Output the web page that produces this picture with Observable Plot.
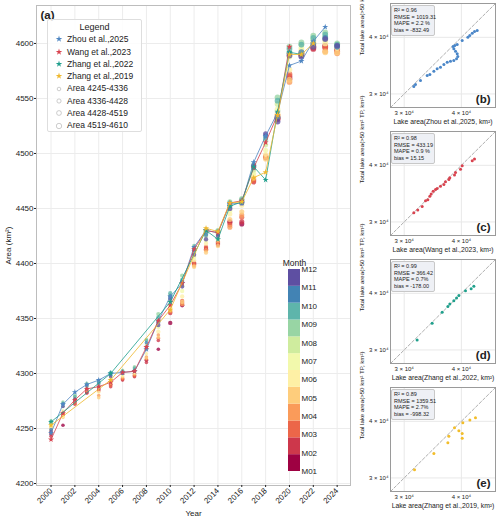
<!DOCTYPE html>
<html><head><meta charset="utf-8">
<script src="https://cdn.jsdelivr.net/npm/d3@7"></script>
<script src="https://cdn.jsdelivr.net/npm/@observablehq/plot@0.6"></script>
<style>
body{margin:0;background:#fff;font-family:"Liberation Sans",Arial,sans-serif;color:#222;}
#root{position:relative;width:500px;height:520px;overflow:hidden;background:#fff;}
#root > *{position:absolute;}
.legend{left:47px;top:19px;width:95px;height:113px;border:1px solid #dedede;border-radius:2px;background:rgba(255,255,255,0.85);font-size:8.5px;box-sizing:border-box;padding-top:1px;}
.legend .ttl{text-align:center;font-size:9px;line-height:12.3px;height:12.3px;}
.legend .row{display:flex;align-items:center;height:12.3px;line-height:12.3px;white-space:nowrap;}
.legend .row svg{margin-left:5px;margin-right:2px;flex:none;}
.stats{width:38px;padding:1px 2px;font-size:5.5px;line-height:6.7px;background:#eef0f5;border:0.6px solid #c8c8c8;border-radius:2px;white-space:nowrap;}
</style></head><body><div id="root"></div>
<script>
// ---------- data ----------
const years = [2000,2001,2002,2003,2004,2005,2006,2007,2008,2009,2010,2011,2012,2013,2014,2015,2016,2017,2018,2019,2020,2021,2022,2023,2024];
const m01 = [4245,4253,4274,4283,4286,4290,4295,4298,4312,4322,4346,4362,4400,4414,4418,4438,4436,4476,4497,4532,4568,4590,4596,4598,4595];
const m02 = [4243,4263,4272,4282,4285,4288,4294,4297,4310,4330,4355,4364,4399,4413,4417,4437,4438,4474,4496,4531,4570,4589,4595,4596,4593];
const m03 = [4246,4264,4273,4284,4284,4289,4295,4298,4313,4332,4356,4366,4401,4415,4419,4435,4442,4475,4498,4533,4572,4591,4597,4597,4594];
const m04 = [4248,4262,4275,4285,4280,4291,4296,4299,4315,4335,4357,4363,4398,4412,4420,4433,4444,4477,4497,4534,4565,4590,4598,4593,4591];
const m05 = [4250,4260,4276,4286,4278,4292,4297,4300,4314,4333,4358,4365,4397,4410,4416,4440,4447,4478,4495,4535,4567,4592,4599,4592,4592];
const m06 = [4252,4261,4277,4287,4283,4294,4298,4301,4318,4338,4360,4370,4403,4418,4422,4445,4453,4480,4499,4537,4576,4594,4600,4600,4596];
const m07 = [4253,4266,4278,4288,4287,4296,4299,4302,4322,4342,4362,4375,4406,4421,4424,4448,4455,4482,4503,4540,4588,4596,4602,4603,4597];
const m08 = [4255,4270,4279,4290,4290,4298,4301,4304,4326,4348,4366,4380,4410,4425,4427,4452,4457,4485,4508,4545,4592,4599,4604,4606,4599];
const m09 = [4257,4274,4280,4291,4292,4300,4303,4306,4331,4354,4371,4389,4416,4430,4430,4456,4459,4490,4512,4551,4597,4601,4607,4610,4600];
const m10 = [4256,4273,4279,4290,4293,4301,4302,4305,4330,4351,4373,4385,4414,4428,4429,4455,4458,4488,4514,4548,4595,4599,4605,4608,4599];
const m11 = [4249,4272,4277,4289,4291,4299,4301,4303,4328,4347,4370,4383,4412,4426,4427,4453,4456,4487,4516,4533,4591,4592,4600,4605,4597];
const m12 = [4247,4270,4276,4286,4288,4297,4300,4302,4324,4344,4368,4379,4408,4422,4425,4450,4455,4489,4518,4529,4589,4588,4597,4604,4598];
const monthLabels = ["M01","M02","M03","M04","M05","M06","M07","M08","M09","M10","M11","M12"];

const zhouYears = [2000,2001,2002,2003,2004,2005,2006,2007,2008,2009,2010,2011,2012,2013,2014,2015,2016,2017,2018,2019,2020,2021,2022,2023];
const zhouArea  = [4246,4272,4283,4290,4294,4300,4301,4302,4322,4348,4370,4382,4415,4430,4428,4454,4455,4492,4516,4537,4580,4584,4602,4615];
const wangYears = [2000,2001,2002,2003,2004,2005,2006,2007,2008,2009,2010,2011,2012,2013,2014,2015,2016,2017,2018,2019,2020];
const wangArea  = [4240,4264,4276,4286,4288,4292,4301,4302,4324,4348,4362,4382,4413,4430,4428,4455,4457,4487,4510,4535,4597];
const zhang22Years = [2000,2005,2010,2013,2014,2015,2016,2017,2018,2019,2020,2021];
const zhang22Area  = [4256,4300,4365,4430,4422,4452,4456,4488,4476,4538,4592,4590];
const zhang19Years = [2000,2005,2010,2013,2014,2015,2016,2017,2018,2019,2020,2021,2022];
const zhang19Area  = [4253,4294,4358,4432,4429,4455,4456,4478,4483,4535,4590,4590,4600];
const seriesNames = ["Zhou et al.,2025","Wang et al.,2023","Zhang et al.,2022","Zhang et al.,2019"];
const sizeBreaks = [4245,4336,4428,4519,4610];
const sizeLabels = ["Area 4245-4336","Area 4336-4428","Area 4428-4519","Area 4519-4610"];
const xTicks = [2000,2002,2004,2006,2008,2010,2012,2014,2016,2018,2020,2022,2024];
const yTicks = [4200,4250,4300,4350,4400,4450,4500,4550,4600];

// scatter panels (km²)
const bX = [31490,31750,32560,33680,34140,34830,35410,36010,36630,37250,37870,38510,39040,39290,39170,38840,38510,38380,38700,39170,40170,41330,41730,42250,42740,43320];
const bY = [31150,31470,32120,32950,33110,33680,34080,34370,34840,35250,35430,35560,35860,36280,36780,37270,37720,38180,38370,38550,39350,40030,40370,40850,41200,41410];
const cX = [31490,32120,32840,33400,33790,34130,34360,34710,35120,35410,36010,36630,36930,37560,37740,38640,38840,39830,40170,42250,42740];
const cY = [31450,31880,32430,33400,33570,34160,34570,35050,35360,35550,35970,36290,36790,37240,37570,38090,38550,39220,39900,40950,41310];
const dX = [32020,34530,36320,37370,37740,38510,39040,39500,40840,42020,42600];
const dY = [31550,34360,36350,37420,37870,38520,39050,39580,40540,40960,41450];
const eX = [31600,34830,37370,37560,38640,39500,40170,40170,40300,41750,42950];
const eY = [31280,33950,35850,37090,38710,38120,37610,36720,39710,40260,40740];
const scatterTicks = [30000,40000];
const statsB = ["R² = 0.96","RMSE = 1019.31","MAPE = 2.2 %","bias = -832.49"];
const statsC = ["R² = 0.98","RMSE = 433.19","MAPE = 0.9 %","bias = 15.15"];
const statsD = ["R² = 0.99","RMSE = 366.42","MAPE = 0.7%","bias = -178.00"];
const statsE = ["R² = 0.89","RMSE = 1359.51","MAPE = 2.7%","bias = -998.32"];
const xLabels = ["Lake area(Zhou et al.,2025, km²)","Lake area(Wang et al.,2023, km²)","Lake area(Zhang et al.,2022, km²)","Lake area(Zhang et al.,2019, km²)"];
const yLabel = "Total lake area(>50 km² TP, km²)";

// ---------- build ----------
const FONT = '"Liberation Sans", Arial, sans-serif';
const root = document.getElementById("root");
const spectral = d3.quantize(d3.interpolateSpectral, 12);
const seriesColors = ["#4f86c2","#d8434f","#1f9e8c","#efb82e"];
const monthly = [m01,m02,m03,m04,m05,m06,m07,m08,m09,m10,m11,m12];
const monthPts = [];
monthly.forEach((arr, i) => arr.forEach((v, j) => {
  if (v != null) monthPts.push({year: years[j], area: v, month: i + 1,
    bin: Math.min(3, Math.max(0, d3.bisectRight(sizeBreaks, v) - 1))});
}));
const series = [[zhouYears, zhouArea],[wangYears, wangArea],[zhang22Years, zhang22Area],[zhang19Years, zhang19Area]]
  .map(([ys, as], k) => ({name: seriesNames[k], color: seriesColors[k], pts: ys.map((y, i) => ({year: y, area: as[i]}))}));

const place = (el, left, top) => { el.style.left = left + "px"; el.style.top = top + "px"; root.appendChild(el); return el; };

const main = Plot.plot({
  width: 360, height: 520, marginLeft: 36, marginRight: 10, marginTop: 5, marginBottom: 35,
  style: {fontFamily: FONT, fontSize: "8px", color: "#222", background: "transparent"},
  x: {domain: [1998.78, 2025.12]},
  y: {domain: [4198.2, 4634.5]},
  color: {type: "ordinal", domain: d3.range(1, 13), range: spectral},
  r: {type: "linear", domain: [0, 3], range: [1.8, 2.9]},
  marks: [
    Plot.gridX(xTicks, {stroke: "#ececec", strokeOpacity: 1}),
    Plot.gridY(yTicks, {stroke: "#ececec", strokeOpacity: 1}),
    Plot.frame({stroke: "#bdbdbd"}),
    Plot.dot(monthPts, {x: "year", y: "area", r: "bin", fill: "month", fillOpacity: 0.78}),
    ...series.flatMap(s => [
      Plot.line(s.pts, {x: "year", y: "area", stroke: s.color, strokeWidth: 0.9, strokeOpacity: 0.9}),
      Plot.dot(s.pts, {x: "year", y: "area", symbol: "star", r: 1.9, fill: s.color})
    ]),
    Plot.axisX(xTicks, {tickRotate: -45, tickFormat: d => String(d), tickSize: 2, tickPadding: 2, fontSize: 8,
      label: "Year", labelAnchor: "center", labelArrow: "none", labelOffset: 30}),
    Plot.axisY(yTicks, {tickFormat: d => String(d), tickSize: 2, tickPadding: 1, fontSize: 8,
      label: "Area (km²)", labelAnchor: "center", labelArrow: "none", labelOffset: 31}),
    Plot.text(["(a)"], {frameAnchor: "top-left", dx: 4, dy: 5, fontWeight: "bold", fontSize: 11.5, textAnchor: "start", lineAnchor: "top"})
  ]
});
place(main, 0, 0);

// legend
const legend = document.createElement("div");
legend.className = "legend";
let html = '<div class="ttl">Legend</div>';
const starPath = d3.symbol(d3.symbolStar, 13)();
seriesNames.forEach((n, k) => {
  html += `<div class="row"><svg width="12" height="10"><path transform="translate(6,5)" d="${starPath}" fill="${seriesColors[k]}"/></svg>${n}</div>`;
});
const legendR = [1.8, 2.1, 2.4, 2.7];
sizeLabels.forEach((n, k) => {
  html += `<div class="row"><svg width="12" height="10"><circle cx="6" cy="5" r="${legendR[k]}" fill="none" stroke="#b8b8b8" stroke-width="0.7"/></svg>${n}</div>`;
});
legend.innerHTML = html;
place(legend, 47, 19);

// month colorbar
const months = d3.range(1, 13);
const cb = Plot.plot({
  width: 45, height: 222, marginLeft: 8, marginRight: 25, marginTop: 9, marginBottom: 11,
  style: {fontFamily: FONT, fontSize: "8px", color: "#222", background: "transparent", overflow: "visible"},
  x: {domain: [0, 1], axis: null}, y: {domain: [0, 12], axis: null},
  color: {type: "ordinal", domain: months, range: spectral},
  marks: [
    Plot.rect(months, {x1: 0, x2: 1, y1: d => d - 1, y2: d => d, fill: d => d}),
    Plot.text(months, {x: 1, y: d => (d - 1) * 12 / 11, text: d => monthLabels[d - 1], textAnchor: "start", dx: 1, fontSize: 8}),
    Plot.text(["Month"], {frameAnchor: "top", dy: -4, lineAnchor: "bottom", fontSize: 8.5})
  ]
});
place(cb, 280, 260);

// scatter panels
const logDomain = [28000, 47500];
const fmtSci = d => `${d / 10000} × 10⁴`;
const panels = [
  {xs: bX, ys: bY, color: "#4a86c8", tag: "(b)", stats: statsB, top: 3},
  {xs: cX, ys: cY, color: "#d9434f", tag: "(c)", stats: statsC, top: 131},
  {xs: dX, ys: dY, color: "#1fa08c", tag: "(d)", stats: statsD, top: 259},
  {xs: eX, ys: eY, color: "#f2bd2a", tag: "(e)", stats: statsE, top: 387}
];
panels.forEach((p, k) => {
  const pts = p.xs.map((x, i) => ({x, y: p.ys[i]}));
  const svg = Plot.plot({
    width: 145, height: 132, marginLeft: 35, marginRight: 5, marginTop: 3, marginBottom: 25,
    style: {fontFamily: FONT, fontSize: "6px", color: "#222", background: "transparent", overflow: "visible"},
    x: {type: "log", domain: logDomain, axis: null},
    y: {type: "log", domain: logDomain, axis: null},
    marks: [
      Plot.gridX(scatterTicks, {stroke: "#e8e8e8", strokeOpacity: 1}),
      Plot.gridY(scatterTicks, {stroke: "#e8e8e8", strokeOpacity: 1}),
      Plot.line(logDomain, {x: d => d, y: d => d, stroke: "#777", strokeWidth: 0.6, strokeDasharray: "3,2"}),
      Plot.dot(pts, {x: "x", y: "y", r: 1.5, fill: p.color}),
      Plot.frame({stroke: "#9a9a9a"}),
      Plot.text(scatterTicks, {x: d => d, frameAnchor: "bottom", dy: 3, lineAnchor: "top", text: fmtSci, fontSize: 6}),
      Plot.text(scatterTicks, {y: d => d, frameAnchor: "left", dx: -2, textAnchor: "end", text: fmtSci, fontSize: 6}),
      Plot.text([xLabels[k]], {frameAnchor: "bottom", dy: 12, lineAnchor: "top", fontSize: 6.8}),
      Plot.text([yLabel], {frameAnchor: "left", dx: -28, rotate: -90, fontSize: 6.1}),
      Plot.text([p.tag], {frameAnchor: "bottom-right", dx: -5, dy: -5, fontWeight: "bold", fontSize: 11.5, textAnchor: "end", lineAnchor: "bottom"})
    ]
  });
  place(svg, 355, p.top - 3);
  const box = document.createElement("div");
  box.className = "stats";
  box.innerHTML = p.stats.join("<br>");
  place(box, 391, p.top + 2);
});
</script>
</body></html>
